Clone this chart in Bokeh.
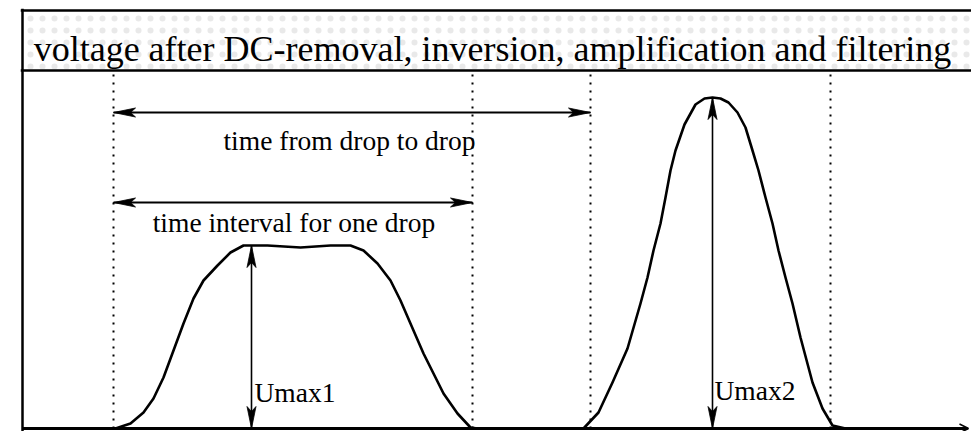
from bokeh.plotting import figure
from bokeh.models import Range1d, Span, BoxAnnotation, Label, Arrow, OpenHead
from bokeh.embed import file_html
from bokeh.resources import INLINE

# ---------------- data (time in arbitrary ms units, voltage in arbitrary units) ----
title_text = "voltage after DC-removal, inversion, amplification and filtering"

t_pulse1 = [9.3, 10.8, 12.1, 13.1, 14.1, 15.1, 16.1, 17.1, 18.1, 19.5, 20.8, 22.1,
            24.5, 27.8, 30.8, 32.8, 34.1, 35.5, 36.8, 37.8, 39.1, 40.1, 41.1, 42.1,
            43.5, 44.8, 45.5]
v_pulse1 = [0.00, 0.05, 0.16, 0.30, 0.51, 0.78, 1.05, 1.30, 1.48, 1.63, 1.76, 1.83,
            1.83, 1.81, 1.83, 1.83, 1.78, 1.65, 1.48, 1.28, 0.98, 0.75, 0.55, 0.35,
            0.15, 0.01, 0.00]

t_pulse2 = [56.1, 57.6, 59.0, 60.5, 61.8, 62.5, 63.1, 63.8, 64.3, 64.8, 65.3, 66.2,
            67.3, 68.2, 69.0, 69.8, 70.6, 71.5, 72.3, 73.0, 73.6, 74.3, 75.0, 75.6,
            76.3, 77.0, 77.8, 79.0, 80.0, 81.0, 82.3]
v_pulse2 = [0.00, 0.16, 0.46, 0.80, 1.25, 1.51, 1.78, 2.05, 2.31, 2.58, 2.78, 3.04,
            3.24, 3.30, 3.31, 3.30, 3.26, 3.16, 3.01, 2.78, 2.58, 2.31, 2.05, 1.78,
            1.51, 1.25, 0.91, 0.46, 0.20, 0.03, 0.00]

t_start = 0.0
t_end = 94.5

drop_marks = [9.1, 45.0, 56.8, 80.8]          # dotted vertical markers
drop_to_drop = (9.1, 56.8)                    # time from drop to drop
one_drop = (9.1, 45.0)                        # time interval for one drop
umax1_t, umax1 = 22.9, 1.83
umax2_t, umax2 = 69.0, 3.31

arrow_texts = ["time from drop to drop", "time interval for one drop"]
umax_texts = ["Umax1", "Umax2"]

# ---------------- layout constants ----------------
W, H = 971, 431
ML, MT = 20, 8
XR = (-0.2, 94.9)
YR = (-0.03, 4.20)
BAND_BOTTOM, BAND_TOP = 3.58, 4.18
Y_DTD, Y_OD = 3.16, 2.26

PX_T = (W - ML) / (XR[1] - XR[0])
PX_V = (H - MT) / (YR[1] - YR[0])
BFIX = 10 / PX_V          # compensate label baseline placement

SERIF = "Liberation Serif"

p = figure(width=W, height=H, x_range=Range1d(*XR), y_range=Range1d(*YR),
           output_backend="svg", toolbar_location=None,
           x_axis_location=None, y_axis_location=None,
           min_border_left=ML, min_border_right=0, min_border_top=MT, min_border_bottom=0)
p.grid.visible = False
p.outline_line_color = None
p.background_fill_color = "white"
p.border_fill_color = "white"

# title band (light stipple)
p.add_layout(BoxAnnotation(left=0, bottom=BAND_BOTTOM, top=BAND_TOP,
                           fill_color="white", line_alpha=0,
                           hatch_pattern="dot", hatch_color="#9a9a9a",
                           hatch_scale=12, hatch_weight=1, hatch_alpha=0.22))
for loc in (BAND_TOP, BAND_BOTTOM):
    p.add_layout(Span(location=loc, dimension="width", line_color="black", line_width=2.5))
p.add_layout(Span(location=0, dimension="height", line_color="black", line_width=2.5))

p.add_layout(Label(x=47.0, y=3.70 + BFIX, text=title_text, text_font=SERIF,
                   text_font_size="36px", text_align="center",
                   text_baseline="alphabetic", text_color="black"))

# dotted markers
p.segment(x0=drop_marks, y0=[0] * len(drop_marks), x1=drop_marks,
          y1=[BAND_BOTTOM] * len(drop_marks), line_color="black",
          line_width=2, line_dash="2 6")

# baseline axis with open arrow
p.add_layout(Arrow(end=OpenHead(size=9, line_width=1.5, line_color="black"),
                   x_start=0, y_start=0, x_end=94.6, y_end=0,
                   line_width=3, line_color="black"))

# signal
sig_t = [t_start] + t_pulse1 + t_pulse2 + [t_end]
sig_v = [0.0] + v_pulse1 + v_pulse2 + [0.0]
p.line(sig_t, sig_v, line_color="black", line_width=2.6, line_join="round")


# double-headed arrows with slim filled heads
def head(xt, yt, ux, uy, L=22, Wd=4.5, N=5):
    nx, ny = -uy, ux
    pts = [(0, 0), (-L * ux + Wd * nx, -L * uy + Wd * ny), (-(L - N) * ux, -(L - N) * uy),
           (-L * ux - Wd * nx, -L * uy - Wd * ny)]
    return [xt + a / PX_T for a, b in pts], [yt + b / PX_V for a, b in pts]


arrows = [
    (drop_to_drop[0], Y_DTD, drop_to_drop[1], Y_DTD, 2.0),
    (one_drop[0], Y_OD, one_drop[1], Y_OD, 2.0),
    (umax1_t, 0.0, umax1_t, umax1, 1.6),
    (umax2_t, 0.0, umax2_t, umax2, 1.6),
]
hx, hy = [], []
for x0, y0, x1, y1, lw in arrows:
    p.segment(x0=[x0], y0=[y0], x1=[x1], y1=[y1], line_color="black", line_width=lw)
    dxp, dyp = (x1 - x0) * PX_T, (y1 - y0) * PX_V
    n = (dxp ** 2 + dyp ** 2) ** 0.5
    ux, uy = dxp / n, dyp / n
    a, b = head(x1, y1, ux, uy)
    hx.append(a); hy.append(b)
    a, b = head(x0, y0, -ux, -uy)
    hx.append(a); hy.append(b)
p.patches(hx, hy, fill_color="black", line_color="black", line_width=0.8)

# annotation texts
lab = dict(text_font=SERIF, text_font_size="27.5px", text_baseline="alphabetic",
           text_color="black")
p.add_layout(Label(x=32.7, y=2.78 + BFIX, text=arrow_texts[0], text_align="center", **lab))
p.add_layout(Label(x=27.15, y=1.96 + BFIX, text=arrow_texts[1], text_align="center", **lab))
p.add_layout(Label(x=umax1_t + 0.3, y=0.26 + BFIX, text=umax_texts[0], text_align="left", **lab))
p.add_layout(Label(x=umax2_t + 0.2, y=0.28 + BFIX, text=umax_texts[1], text_align="left", **lab))

open("out.html", "w").write(file_html(p, INLINE))
